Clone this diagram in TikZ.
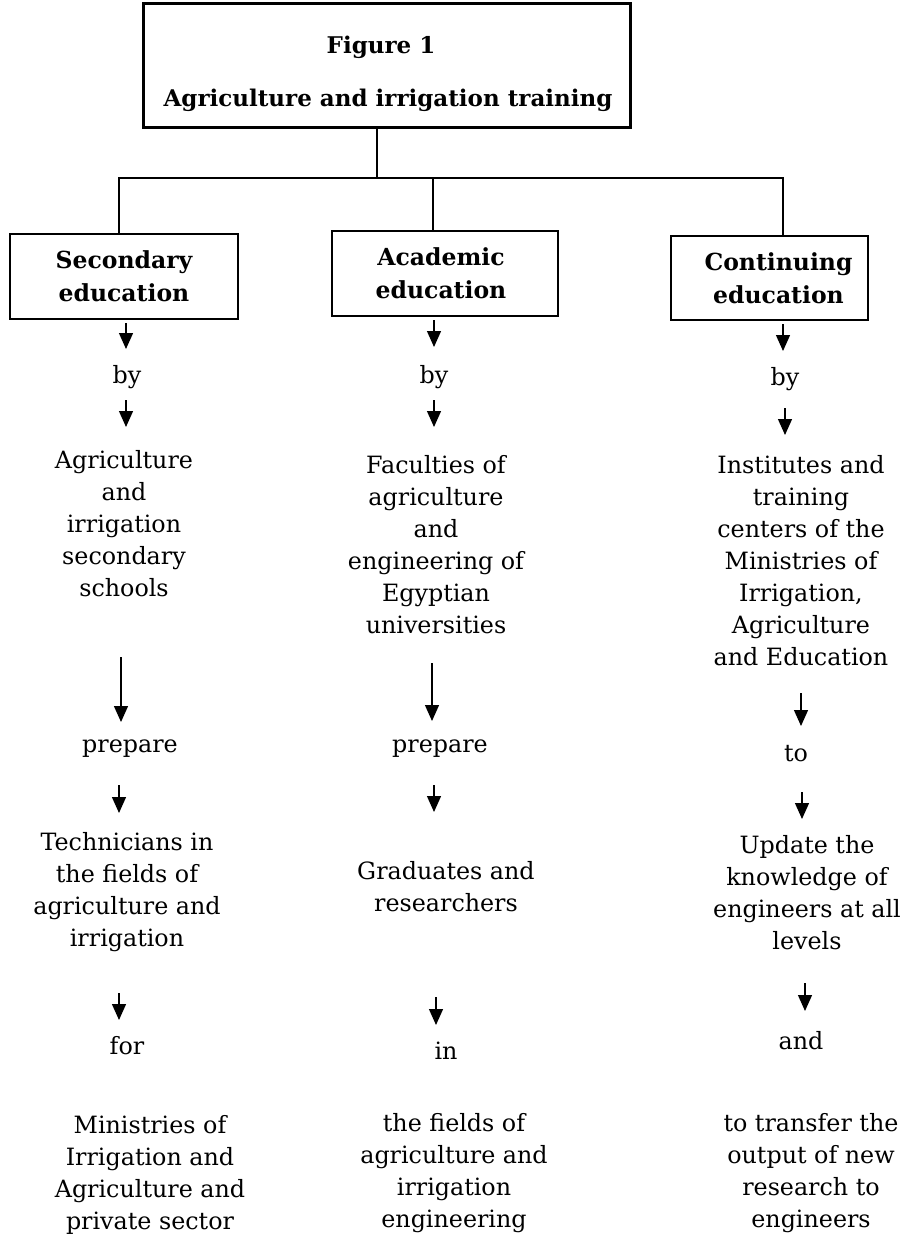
\documentclass[tikz,border=0pt]{standalone}
\usepackage{fontspec}
\setmainfont{DejaVu Serif}
\usetikzlibrary{arrows.meta}
\tikzset{
  body/.style={font=\fontsize{23.8}{32}\selectfont, align=center, inner sep=0pt},
  head/.style={draw, line width=1.5pt, font=\bfseries\fontsize{23.5}{33}\selectfont, align=center, inner sep=0pt},
  titlebox/.style={draw, line width=3pt, minimum width=487pt, minimum height=123pt, inner sep=0pt},
  titletext/.style={font=\bfseries\fontsize{23}{30}\selectfont, inner sep=0pt},
  arr/.style={line width=1.3pt, -{Triangle[length=16pt,width=14pt]}},
  link/.style={line width=1.5pt}
}
\begin{document}
\begin{tikzpicture}[x=1pt,y=-1pt]
\useasboundingbox (0,0) rectangle (906,1239);
% title
\node[titlebox] (top) at (386.5,65.5) {};
\node[titletext] (t1) at (381,47) {Figure 1};
\node[titletext] (t2) at (388,100) {Agriculture and irrigation training};
% headers
\node[head, minimum width=228pt, minimum height=85pt] (sec) at (124,276.5) {Secondary\\education};
\node[head, minimum width=226pt, minimum height=85pt] (acad) at (445,273.5) {\hspace*{-8pt}Academic\\\hspace*{-8pt}education};
\node[head, minimum width=197pt, minimum height=84pt] (cont) at (769.5,278) {\hspace*{18pt}Continuing\\\hspace*{18pt}education};
% links
\coordinate (j) at (377,178);
\coordinate (d1) at (119,178);
\coordinate (d2) at (433,178);
\coordinate (d3) at (783,178);
\draw[link] (top.south -| j) -- (j);
\draw[link] (sec.north -| d1) -- (d1) -- (d3) -- (cont.north -| d3);
\draw[link] (acad.north -| d2) -- (d2);
% column 1
\node[body] (by1) at (127,377) {by};
\node[body] (s1) at (124,524) {Agriculture\\and\\irrigation\\secondary\\schools};
\node[body] (p1) at (130,749) {prepare};
\node[body] (tech) at (127,892) {Technicians in\\the fields of\\agriculture and\\irrigation};
\node[body] (for) at (127,1046) {for};
\node[body] (min) at (150,1175) {Ministries of\\Irrigation and\\Agriculture and\\private sector};
% column 2
\node[body] (by2) at (434,377) {by};
\node[body] (fac) at (436,545) {Faculties of\\agriculture\\and\\engineering of\\Egyptian\\universities};
\node[body] (p2) at (440,749) {prepare};
\node[body] (grad) at (446,887) {Graduates and\\researchers};
\node[body] (in) at (446,1051) {in};
\node[body] (fld) at (454,1173) {the fields of\\agriculture and\\irrigation\\engineering};
% column 3
\node[body] (by3) at (785,379) {by};
\node[body] (inst) at (801,561) {Institutes and\\training\\centers of the\\Ministries of\\Irrigation,\\Agriculture\\and Education};
\node[body] (to) at (796,754) {to};
\node[body] (upd) at (807,893) {Update the\\knowledge of\\engineers at all\\levels};
\node[body] (and) at (801,1041) {and};
\node[body] (trn) at (811,1173) {to transfer the\\output of new\\research to\\engineers};
% arrow end points
\coordinate (a1s) at (126,323); \coordinate (a1e) at (126,349);
\coordinate (a2s) at (126,400); \coordinate (a2e) at (126,427);
\coordinate (a3s) at (121,657); \coordinate (a3e) at (121,722);
\coordinate (a4s) at (119,785); \coordinate (a4e) at (119,813);
\coordinate (a5s) at (119,993); \coordinate (a5e) at (119,1020);
\coordinate (b1s) at (434,320); \coordinate (b1e) at (434,347);
\coordinate (b2s) at (434,400); \coordinate (b2e) at (434,427);
\coordinate (b3s) at (432,663); \coordinate (b3e) at (432,721);
\coordinate (b4s) at (434,785); \coordinate (b4e) at (434,812);
\coordinate (b5s) at (436,997); \coordinate (b5e) at (436,1025);
\coordinate (c1s) at (783,324); \coordinate (c1e) at (783,351);
\coordinate (c2s) at (785,408); \coordinate (c2e) at (785,435);
\coordinate (c3s) at (801,693); \coordinate (c3e) at (801,726);
\coordinate (c4s) at (802,792); \coordinate (c4e) at (802,819);
\coordinate (c5s) at (805,983); \coordinate (c5e) at (805,1011);
\foreach \n in {a1,a2,a3,a4,a5,b1,b2,b3,b4,b5,c1,c2,c3,c4,c5}
  \draw[arr] (\n s) -- (\n e);
\end{tikzpicture}
\end{document}
